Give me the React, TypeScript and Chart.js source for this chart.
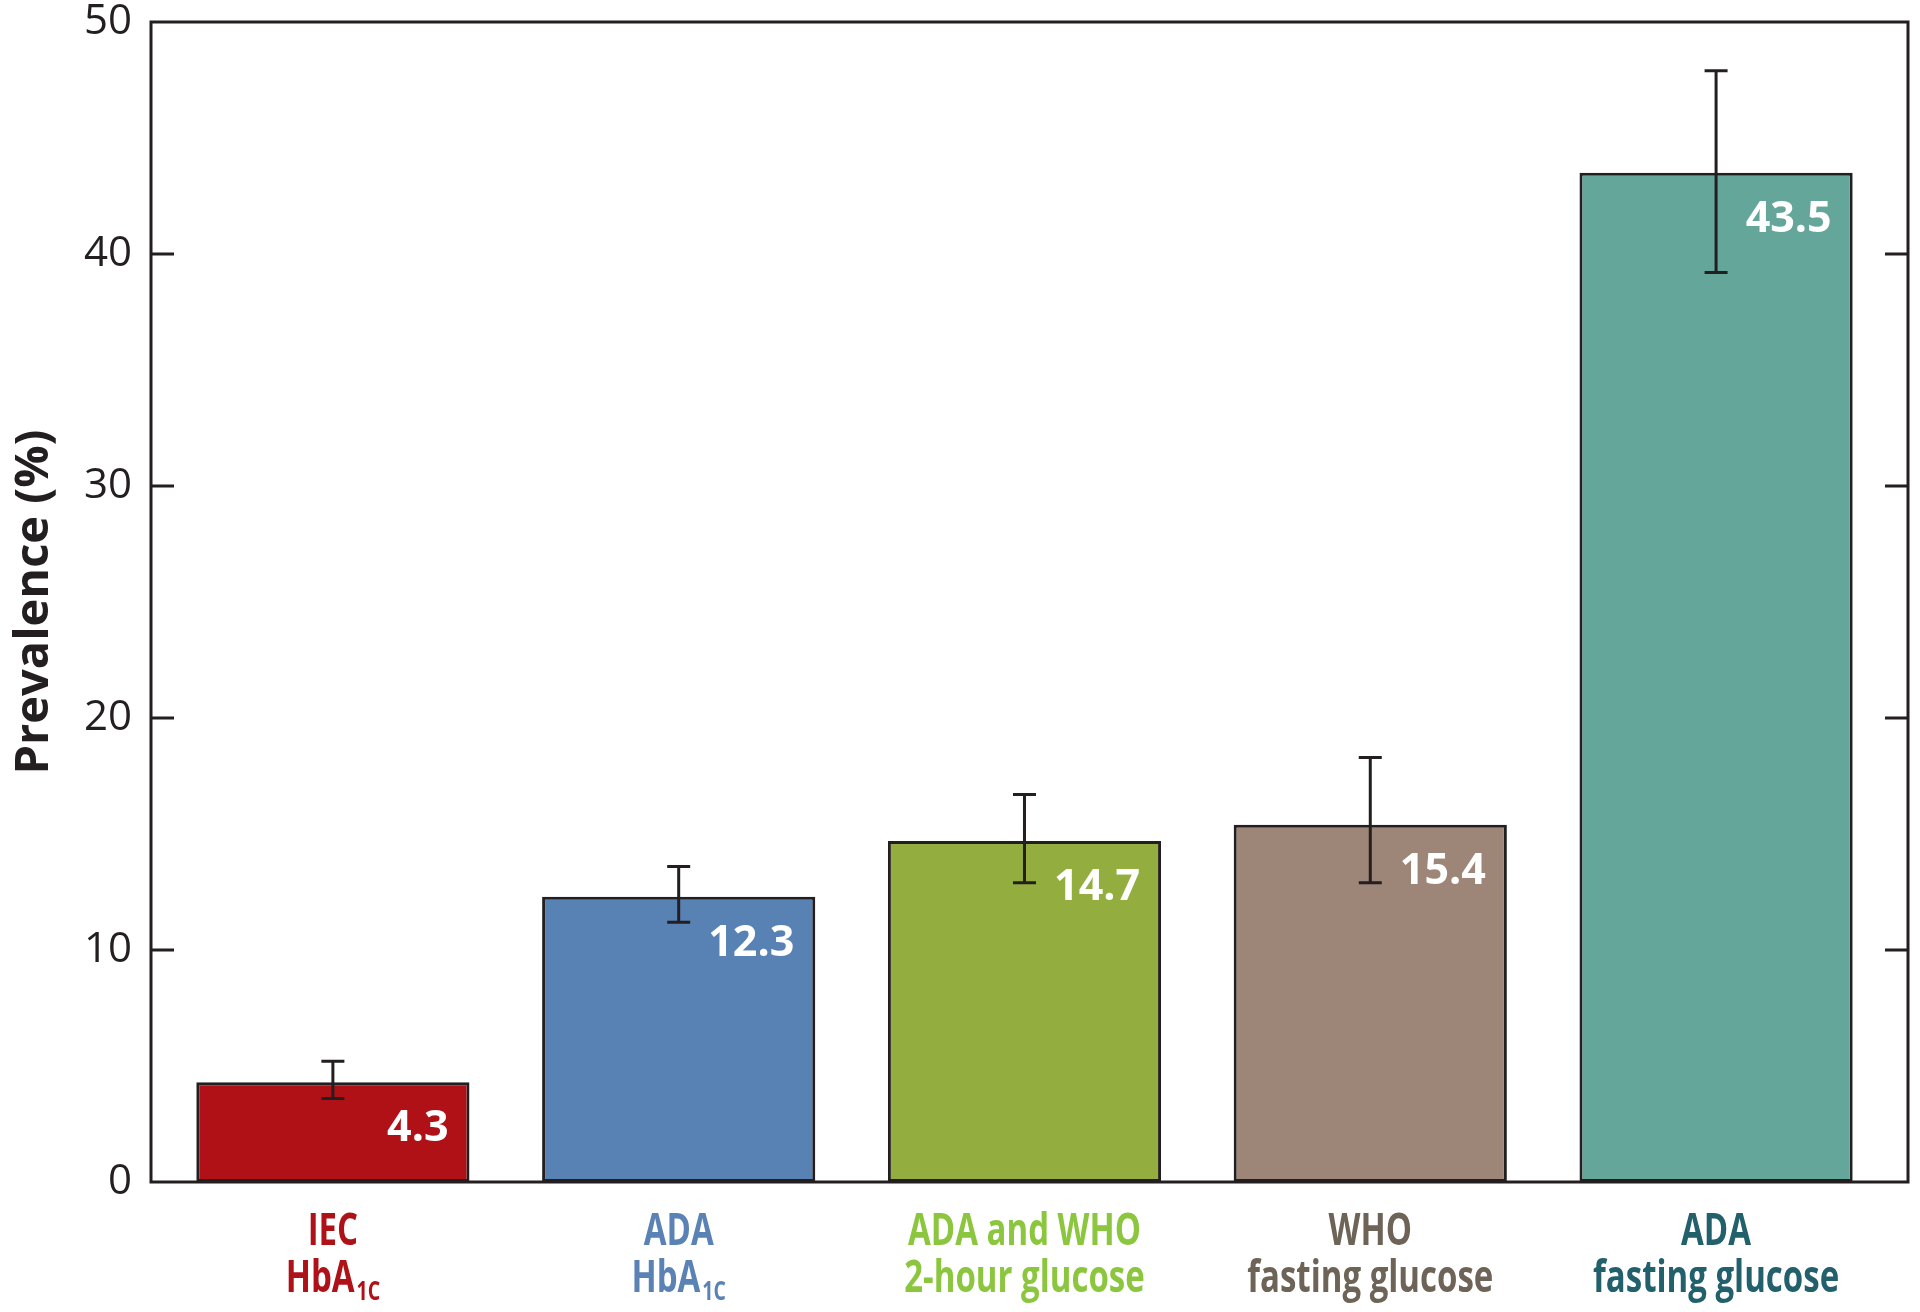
import React, { useEffect, useRef } from "react";
import { Chart, registerables } from "chart.js";

Chart.register(...registerables);

// ---- data ----
const categoryIndex = [0, 1, 2, 3, 4];
const prevalence = [4.3, 12.3, 14.7, 15.4, 43.5];
const errorLow = [3.6, 11.2, 12.9, 12.9, 39.2];
const errorHigh = [5.2, 13.6, 16.7, 18.3, 47.9];
const labelLine1 = ["IEC", "ADA", "ADA and WHO", "WHO", "ADA"];
const labelLine2 = ["HbA", "HbA", "2-hour glucose", "fasting glucose", "fasting glucose"];
const labelSub = ["1C", "1C", "", "", ""];
const yTickValues = [0, 10, 20, 30, 40, 50];
const barColors = ["#AF1116", "#5881B4", "#93AE3F", "#9D8677", "#65A69B"];
const labelColors = ["#AE1218", "#5B82B5", "#8CC63F", "#6E6357", "#22606C"];

const INK = "#231f20";
const FONT = "'Open Sans', 'Noto Sans', sans-serif";

const decorPlugin = {
  id: "decor",
  afterDatasetsDraw(chart: any) {
    const ctx = chart.ctx as CanvasRenderingContext2D;
    const { left, right, top, bottom } = chart.chartArea;
    const xs = chart.scales.x;
    const ys = chart.scales.y;
    const meta = chart.getDatasetMeta(0);
    ctx.save();

    // value labels
    ctx.fillStyle = "#ffffff";
    ctx.font = `bold 43px ${FONT}`;
    ctx.textAlign = "right";
    ctx.textBaseline = "middle";
    meta.data.forEach((bar: any, i: number) => {
      ctx.fillText(prevalence[i].toFixed(1), bar.x + bar.width / 2 - 21, bar.y + 47);
    });

    // error bars
    ctx.strokeStyle = INK;
    ctx.lineWidth = 3;
    ctx.lineCap = "butt";
    categoryIndex.forEach((c, i) => {
      const px = xs.getPixelForValue(c);
      const yl = ys.getPixelForValue(errorLow[i]);
      const yh = ys.getPixelForValue(errorHigh[i]);
      ctx.beginPath();
      ctx.moveTo(px, yl);
      ctx.lineTo(px, yh);
      ctx.moveTo(px - 11.5, yl);
      ctx.lineTo(px + 11.5, yl);
      ctx.moveTo(px - 11.5, yh);
      ctx.lineTo(px + 11.5, yh);
      ctx.stroke();
    });

    // frame
    ctx.strokeRect(left, top, right - left, bottom - top);
    // inward ticks on both sides
    yTickValues.forEach((v) => {
      if (v <= 0 || v >= 50) return;
      const py = ys.getPixelForValue(v);
      ctx.beginPath();
      ctx.moveTo(left, py);
      ctx.lineTo(left + 23, py);
      ctx.moveTo(right, py);
      ctx.lineTo(right - 23, py);
      ctx.stroke();
    });

    // category labels (condensed bold)
    const SX = 0.75;
    ctx.textAlign = "left";
    ctx.textBaseline = "alphabetic";
    categoryIndex.forEach((c, i) => {
      const cx = xs.getPixelForValue(c);
      ctx.fillStyle = labelColors[i];
      // line 1
      ctx.font = `bold 44px ${FONT}`;
      const w1 = ctx.measureText(labelLine1[i]).width * SX;
      ctx.save();
      ctx.translate(cx - w1 / 2, 1245);
      ctx.scale(SX, 1);
      ctx.fillText(labelLine1[i], 0, 0);
      ctx.restore();
      // line 2
      ctx.font = `bold 44px ${FONT}`;
      const wm = ctx.measureText(labelLine2[i]).width * SX;
      let ws = 0;
      if (labelSub[i]) {
        ctx.font = `bold 26px ${FONT}`;
        ws = ctx.measureText(labelSub[i]).width * SX + 2;
      }
      const start = cx - (wm + ws) / 2;
      ctx.font = `bold 44px ${FONT}`;
      ctx.save();
      ctx.translate(start, 1292);
      ctx.scale(SX, 1);
      ctx.fillText(labelLine2[i], 0, 0);
      ctx.restore();
      if (labelSub[i]) {
        ctx.font = `bold 26px ${FONT}`;
        ctx.save();
        ctx.translate(start + wm + 2, 1300);
        ctx.scale(SX, 1);
        ctx.fillText(labelSub[i], 0, 0);
        ctx.restore();
      }
    });

    ctx.restore();
  },
};

export default function App() {
  const canvasRef = useRef<HTMLCanvasElement | null>(null);

  useEffect(() => {
    if (!canvasRef.current) return;
    const chart = new Chart(canvasRef.current, {
      type: "bar",
      data: {
        datasets: [
          {
            label: "Prevalence",
            data: categoryIndex.map((c, i) => ({ x: c, y: prevalence[i] })),
            backgroundColor: barColors,
            borderColor: INK,
            borderWidth: 3,
            borderSkipped: false,
            categoryPercentage: 1,
            barPercentage: 0.79,
          },
        ],
      },
      options: {
        animation: false,
        responsive: false,
        devicePixelRatio: 1,
        layout: { autoPadding: false, padding: { top: 22, right: 12, left: 0, bottom: 0 } },
        plugins: { legend: { display: false }, tooltip: { enabled: false } },
        scales: {
          x: {
            type: "linear",
            min: -0.526,
            max: 4.555,
            offset: false,
            grid: { display: false, drawTicks: false },
            border: { display: false },
            ticks: { display: false, stepSize: 1, includeBounds: false },
            afterFit: (s: any) => {
              s.height = 130;
            },
          },
          y: {
            min: 0,
            max: 50,
            grid: { display: false, drawTicks: false },
            border: { display: false },
            ticks: {
              stepSize: 10,
              padding: 19,
              color: INK,
              font: { family: FONT, size: 42, lineHeight: 0.05 },
            },
            title: {
              display: true,
              text: "Prevalence (%)",
              color: INK,
              font: { family: FONT, size: 47, weight: "bold", lineHeight: 1.2 },
              padding: { top: 6, bottom: 0 },
            },
            afterFit: (s: any) => {
              s.width = 151;
            },
          },
        },
      },
      plugins: [decorPlugin],
    } as any);
    return () => chart.destroy();
  }, []);

  return (
    <div style={{ position: "absolute", left: 0, top: 0, width: 1920, height: 1312, background: "#ffffff" }}>
      <canvas ref={canvasRef} width={1920} height={1312} style={{ width: 1920, height: 1312, display: "block" }} />
    </div>
  );
}
